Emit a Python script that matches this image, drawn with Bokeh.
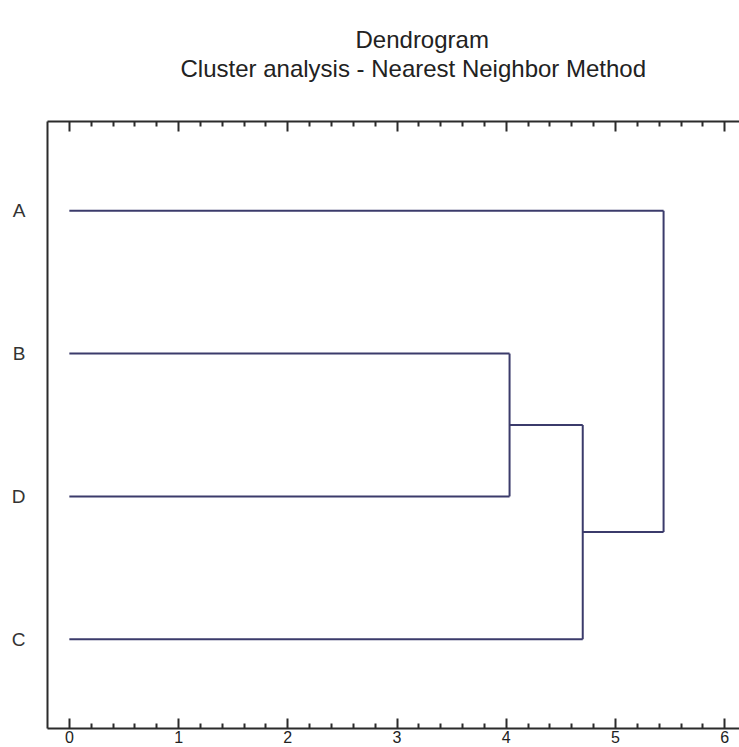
from bokeh.plotting import figure
from bokeh.models import Range1d, LinearAxis, FixedTicker, Title
from bokeh.embed import file_html
from bokeh.resources import INLINE

# ---- data ----
leaves = ["A", "B", "D", "C"]            # top to bottom
merge_left = ["B", "BD", "A"]
merge_right = ["D", "C", "BDC"]
merge_height = [4.03, 4.70, 5.44]
x_ticks = [0, 1, 2, 3, 4, 5, 6]
title_line1 = "Dendrogram"
title_line2 = "Cluster analysis - Nearest Neighbor Method"

# ---- build dendrogram segments ----
n = len(leaves)
node_y = {name: float(n - i) for i, name in enumerate(leaves)}
node_x = {name: 0.0 for name in leaves}
x0, y0, x1, y1 = [], [], [], []
for l, r, h in zip(merge_left, merge_right, merge_height):
    for c in (l, r):
        x0.append(node_x[c]); y0.append(node_y[c]); x1.append(h); y1.append(node_y[c])
    x0.append(h); y0.append(node_y[l]); x1.append(h); y1.append(node_y[r])
    name = l + r
    node_x[name] = h
    node_y[name] = (node_y[l] + node_y[r]) / 2.0

minor = [t + k * 0.2 for t in x_ticks[:-1] for k in range(1, 5)]

p = figure(width=739, height=747, output_backend="svg", toolbar_location=None,
           x_range=Range1d(-0.2, 6.135), y_range=Range1d(0.375, 4.625),
           x_axis_location=None, y_axis_location=None,
           min_border_left=47, min_border_right=0, min_border_top=121,
           min_border_bottom=19)
p.outline_line_color = None
p.grid.visible = False
p.background_fill_color = "white"
p.border_fill_color = "white"

AX = "#2b2b2b"

def x_axis():
    ax = LinearAxis(ticker=FixedTicker(ticks=x_ticks, minor_ticks=minor))
    ax.axis_line_color = AX
    ax.axis_line_width = 2
    ax.major_tick_line_color = AX
    ax.major_tick_line_width = 2
    ax.minor_tick_line_color = AX
    ax.minor_tick_line_width = 2
    ax.major_tick_in = 10
    ax.major_tick_out = 0
    ax.minor_tick_in = 5
    ax.minor_tick_out = 0
    ax.major_label_text_font = "Liberation Sans"
    ax.major_label_text_font_size = "16px"
    ax.major_label_text_color = "#222222"
    ax.major_label_standoff = 2
    return ax

bottom = x_axis()
p.add_layout(bottom, "below")
top = x_axis()
top.major_label_text_font_size = "0px"
top.major_label_text_color = None
top.axis_label = "\u00a0"
top.axis_label_text_font_size = "2px"
top.axis_label_text_color = "white"
top.axis_label_standoff = 35
p.add_layout(top, "above")

yax = LinearAxis(ticker=FixedTicker(ticks=[node_y[k] for k in leaves], minor_ticks=[]))
yax.major_label_overrides = {node_y[k]: k for k in leaves}
yax.axis_line_color = AX
yax.axis_line_width = 2
yax.major_tick_in = 0
yax.major_tick_out = 0
yax.minor_tick_in = 0
yax.minor_tick_out = 0
yax.major_label_text_font = "Liberation Sans"
yax.major_label_text_font_size = "19px"
yax.major_label_text_color = "#333333"
yax.major_label_standoff = 22
yax.major_label_orientation = "horizontal"
p.add_layout(yax, "left")

p.segment(x0=x0, y0=y0, x1=x1, y1=y1, line_color="#3b3b6b", line_width=2)

def style_title(t, off):
    t.align = "left"
    t.offset = off
    t.standoff = 0
    t.text_font = "Liberation Sans"
    t.text_font_size = "24px"
    t.text_font_style = "normal"
    t.text_color = "#222222"

p.title.text = title_line1
style_title(p.title, 308)
t2 = Title(text=title_line2)
style_title(t2, 133)
p.add_layout(t2, "above")

open("out.html", "w").write(file_html(p, INLINE))
